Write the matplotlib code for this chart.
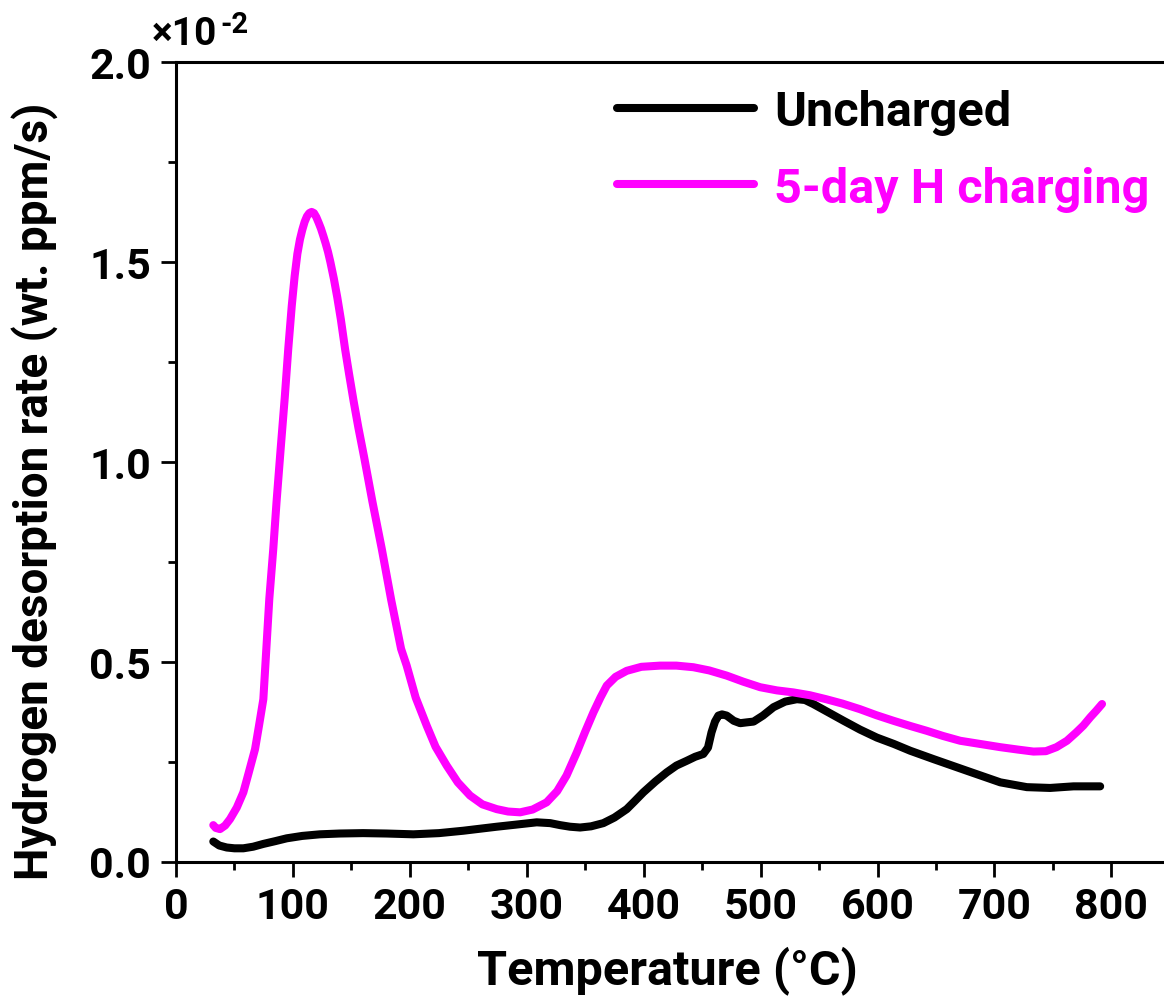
import matplotlib
matplotlib.use("Agg")
import matplotlib.pyplot as plt
from matplotlib.ticker import MultipleLocator, FormatStrFormatter

plt.rcParams['font.family'] = ['Roboto', 'DejaVu Sans']
plt.rcParams['font.weight'] = 'bold'

# Thermal desorption spectra (rate in units of 1e-2 wt. ppm/s)
temp_uncharged = [31.9, 37, 43.4, 50, 57.6, 66, 74.7, 85, 94.7, 108, 123, 140, 160, 180,
                  203, 225, 245.8, 260, 274.3, 290, 308.5, 320, 328.5, 337, 345.6, 355,
                  365.5, 375, 385.5, 392, 399.7, 410, 419.7, 428, 436.9, 444, 451, 455,
                  458, 461, 463.9, 467, 471, 477, 482.5, 488, 494, 502, 511, 521, 531,
                  538, 545, 558, 571, 585, 599.4, 614, 628, 648, 676.4, 705, 727.7,
                  747.6, 767.6, 790.4]
rate_uncharged = [0.050, 0.040, 0.035, 0.033, 0.033, 0.037, 0.044, 0.051, 0.058, 0.064,
                  0.068, 0.070, 0.071, 0.070, 0.068, 0.071, 0.077, 0.082, 0.087, 0.092,
                  0.098, 0.096, 0.091, 0.087, 0.085, 0.088, 0.096, 0.110, 0.131, 0.150,
                  0.173, 0.200, 0.223, 0.240, 0.252, 0.262, 0.269, 0.285, 0.323, 0.350,
                  0.365, 0.368, 0.365, 0.352, 0.346, 0.348, 0.350, 0.365, 0.386, 0.400,
                  0.406, 0.404, 0.394, 0.373, 0.352, 0.330, 0.310, 0.294, 0.277, 0.256,
                  0.227, 0.198, 0.186, 0.184, 0.188, 0.188]

temp_charged = [31.9, 34, 37.6, 42, 46.2, 52, 57.6, 62, 67.6, 71, 74.7, 76, 79.8, 83.2,
                86, 89.5, 93, 96, 99, 101.5, 103.8, 106, 108, 110, 112, 114, 116,
                118, 120, 122, 124, 126, 128, 130, 132, 135, 138, 141, 144.6, 148,
                152, 156, 161, 168, 176, 184, 192.5, 197.3, 205, 214.4,
                222, 231.5, 241, 251.5, 262, 274.3, 284, 294.3, 305, 317, 326, 334,
                342.8, 350, 357, 363, 368.4, 376, 385.5, 398, 414, 428, 442.5, 456,
                471, 485, 499.6, 514, 528, 542, 556, 570, 585, 599, 613.6, 628, 642,
                656, 670.7, 690, 705, 720, 733.4, 744, 753, 762, 770, 776, 782, 787,
                792]
rate_charged = [0.091, 0.084, 0.081, 0.090, 0.106, 0.135, 0.173, 0.220, 0.281, 0.340,
                0.406, 0.470, 0.657, 0.782, 0.900, 1.032, 1.160, 1.282, 1.390, 1.465,
                1.520, 1.556, 1.580, 1.600, 1.614, 1.622, 1.625, 1.622, 1.612, 1.598,
                1.583, 1.565, 1.546, 1.525, 1.500, 1.458, 1.410, 1.356, 1.282, 1.220,
                1.150, 1.085, 1.010, 0.900, 0.782, 0.655, 0.532, 0.490, 0.410, 0.340,
                0.287, 0.240, 0.198, 0.165, 0.143, 0.131, 0.125, 0.123, 0.130, 0.148,
                0.176, 0.215, 0.273, 0.325, 0.373, 0.410, 0.440, 0.462, 0.477, 0.487,
                0.490, 0.490, 0.486, 0.478, 0.465, 0.450, 0.436, 0.428, 0.423, 0.416,
                0.406, 0.395, 0.381, 0.366, 0.352, 0.339, 0.327, 0.314, 0.302, 0.293,
                0.286, 0.280, 0.275, 0.276, 0.286, 0.302, 0.323, 0.340, 0.361, 0.377,
                0.394]

x_ticks = [0, 100, 200, 300, 400, 500, 600, 700, 800]
y_ticks = [0.0, 0.5, 1.0, 1.5, 2.0]

fig = plt.figure(figsize=(11.64, 10.03), dpi=100)
ax = fig.add_axes([176 / 1164, 140.5 / 1003, 988 / 1164, 799.5 / 1003])

ax.plot(temp_uncharged, rate_uncharged, color='black', lw=5.8,
        solid_capstyle='round', solid_joinstyle='round', label='Uncharged')
ax.plot(temp_charged, rate_charged, color='#FF00FF', lw=5.8,
        solid_capstyle='round', solid_joinstyle='round', label='5-day H charging')

ax.set_xlim(0, 845)
ax.set_ylim(0, 2.0)
ax.set_xticks(x_ticks)
ax.set_yticks(y_ticks)
ax.xaxis.set_minor_locator(MultipleLocator(50))
ax.yaxis.set_minor_locator(MultipleLocator(0.25))
ax.yaxis.set_major_formatter(FormatStrFormatter('%.1f'))

for side in ('left', 'bottom', 'top'):
    ax.spines[side].set_linewidth(2.2)
ax.spines['right'].set_visible(False)

ax.tick_params(which='major', direction='out', length=11, width=2, labelsize=31, pad=7)
ax.tick_params(which='minor', direction='out', length=6, width=2)
ax.tick_params(top=False, right=False, which='both')
for lab in ax.get_xticklabels() + ax.get_yticklabels():
    lab.set_fontweight('bold')

ax.set_xlabel('Temperature (°C)', fontsize=35, fontweight='bold')
ax.set_ylabel('Hydrogen desorption rate (wt. ppm/s)', fontsize=33, fontweight='bold')
ax.xaxis.set_label_coords(0.497, -0.105)
ax.yaxis.set_label_coords(-0.118, 0.464)

# scale factor shown above the y axis
fig.text(152 / 1164, 1 - 45 / 1003, '×10', fontsize=28, fontweight='bold',
         ha='left', va='baseline')
fig.text(220 / 1164, 1 - 33 / 1003, '-2', fontsize=21, fontweight='bold',
         ha='left', va='baseline')

leg = ax.legend(loc='upper left', bbox_to_anchor=(441 / 988, 1 - 27 / 799.5),
                frameon=False, handlelength=2.82, handletextpad=0.41,
                labelspacing=0.62, borderaxespad=0, borderpad=0,
                prop={'weight': 'bold', 'size': 35})
for line, text in zip(leg.get_lines(), leg.get_texts()):
    text.set_color(line.get_color())
    line.set_linewidth(5.8)

fig.savefig('out.png', dpi=100)
